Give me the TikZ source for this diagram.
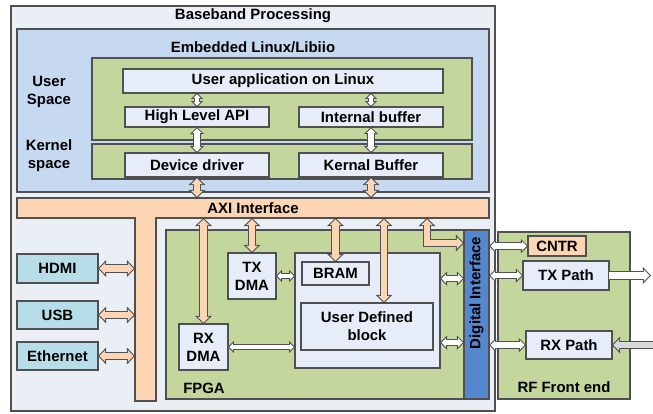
\documentclass[tikz,border=0pt]{standalone}
\usepackage{fontspec}
\setmainfont{Liberation Sans}
\usetikzlibrary{arrows.meta,calc}

\definecolor{bgc}{RGB}{234,239,246}
\definecolor{linuxc}{RGB}{198,217,241}
\definecolor{greenc}{RGB}{195,214,155}
\definecolor{boxc}{RGB}{231,237,248}
\definecolor{orangec}{RGB}{252,213,181}
\definecolor{tealc}{RGB}{183,222,232}
\definecolor{digc}{RGB}{84,135,205}
\definecolor{grayc}{RGB}{217,217,217}
\definecolor{edge}{RGB}{80,80,80}

\begin{document}
\begin{tikzpicture}[x=0.02cm,y=-0.02cm,
	every node/.style={font=\fontsize{8.5}{10.2}\selectfont\bfseries, inner sep=0pt, outer sep=0pt, align=center},
	box/.style={draw=edge, line width=0.6pt, fill=#1},
	box/.default=boxc,
	sz/.style 2 args={minimum width=#1*0.02cm, minimum height=#2*0.02cm},
	% block arrows: dark outline pass, then coloured pass
	big/.style={preaction={draw=edge, line width=5pt, shorten <=0pt, shorten >=0pt,
		arrows={Triangle[length=4.6pt,width=9.6pt,line width=0pt]-Triangle[length=4.6pt,width=9.6pt,line width=0pt]}},
		draw=#1, line width=3.8pt, shorten <=0.83pt, shorten >=0.83pt,
		arrows={Triangle[length=3.2pt,width=6.6pt,line width=0pt]-Triangle[length=3.2pt,width=6.6pt,line width=0pt]}},
	mid/.style={preaction={draw=edge, line width=4.2pt, shorten <=0pt, shorten >=0pt,
		arrows={Triangle[length=4pt,width=8pt,line width=0pt]-Triangle[length=4pt,width=8pt,line width=0pt]}},
		draw=#1, line width=3pt, shorten <=0.85pt, shorten >=0.85pt,
		arrows={Triangle[length=2.55pt,width=5.1pt,line width=0pt]-Triangle[length=2.55pt,width=5.1pt,line width=0pt]}},
	small/.style={preaction={draw=edge, line width=3.2pt, shorten <=0pt, shorten >=0pt,
		arrows={Triangle[length=3.4pt,width=7pt,line width=0pt]-Triangle[length=3.4pt,width=7pt,line width=0pt]}},
		draw=#1, line width=2pt, shorten <=0.84pt, shorten >=0.84pt,
		arrows={Triangle[length=1.96pt,width=4pt,line width=0pt]-Triangle[length=1.96pt,width=4pt,line width=0pt]}},
	oneway/.style={preaction={draw=edge, line width=5pt, shorten >=0pt,
		arrows={-Triangle[length=4.6pt,width=9.6pt,line width=0pt]}},
		draw=#1, line width=3.8pt, shorten >=0.83pt,
		arrows={-Triangle[length=3.2pt,width=6.6pt,line width=0pt]}}
	]
	\useasboundingbox (0,0) rectangle (653,413);

	% baseband / linux part
	\node[box=bgc, sz={484}{405}] (bb) at (253,208.5) {};
	\node (bbt) at (253,16) {Baseband Processing};
	\node[box=linuxc, sz={472}{163}] (linux) at (253,110.5) {};
	\node (linuxt) at (253,47) {Embedded Linux/Libiio};
	\node[box=greenc, sz={380}{82}] (usp) at (282,99) {};
	\node[box=greenc, sz={380}{35}] (ksp) at (282,161.5) {};
	\node (uspt) at (49,92) {User\\Space};
	\node (kspt) at (49,155.5) {Kernel\\space};
	\node[box, sz={320}{24}] (app) at (283,81) {User application on Linux};
	\node[box, sz={144}{20}] (api) at (197,117) {High Level API};
	\node[box, sz={144}{20}] (ibuf) at (371,117) {Internal buffer};
	\node[box, sz={144}{24}] (drv) at (197,165) {Device driver};
	\node[box, sz={144}{24}] (kbuf) at (371,165) {Kernal Buffer};

	% AXI bus (T shape)
	\node[fill=orangec, sz={21}{183}] (stem) at (145.5,309.5) {};
	\node[fill=orangec, sz={472}{20}] (axi) at (253,208) {AXI Interface};
	\draw[edge, line width=0.6pt] (axi.north west) -- (axi.north east) -- (axi.south east)
		-- (stem.north east) -- (stem.south east) -- (stem.south west) -- (stem.north west)
		-- (axi.south west) -- cycle;

	\node[box=tealc, sz={81}{29}] (hdmi) at (57.5,268.5) {HDMI};
	\node[box=tealc, sz={81}{28}] (usb) at (57.5,315) {USB};
	\node[box=tealc, sz={81}{28}] (eth) at (57.5,356) {Ethernet};

	% FPGA
	\node[box=greenc, sz={298}{169}] (fpga) at (315,314.5) {};
	\node (fpgat) at (204,388) {FPGA};
	\node[box=digc, sz={25}{169}] (dig) at (476.5,314.5) {};
	\node[rotate=90] (digt) at (476.5,293) {Digital Interface};
	\node[box, sz={145}{115}] (udp) at (367.5,310.5) {};
	\node[box, sz={67}{23}] (bram) at (335.5,273.5) {BRAM};
	\node[box, sz={132}{47}] (udb) at (367,326.5) {User Defined\\block};
	\node[box, sz={48}{46}] (txdma) at (252,276) {TX\\DMA};
	\node[box, sz={49}{46}] (rxdma) at (203.5,347) {RX\\DMA};

	% RF front end
	\node[box=greenc, sz={132}{167}] (rf) at (564,315.5) {};
	\node (rft) at (564,387) {RF Front end};
	\node[box=orangec, sz={58}{20}] (cntr) at (557,246) {CNTR};
	\node[box, sz={86}{29}] (txp) at (566,275.5) {TX Path};
	\node[box, sz={86}{28}] (rxp) at (569,345) {RX Path};

	% arrows
	\draw[small=white] (app.south -| api) -- (api.north);
	\draw[small=white] (app.south -| ibuf) -- (ibuf.north);
	\draw[mid=white] (api.south) -- (drv.north);
	\draw[mid=white] (ibuf.south) -- (kbuf.north);
	\draw[big=orangec] (drv.south) -- (drv.south |- axi.north);
	\draw[big=orangec] (kbuf.south) -- (kbuf.south |- axi.north);
	\foreach \dev in {hdmi,usb,eth}
		\draw[big=orangec] (\dev.east) -- (\dev.east -| stem.west);
	\foreach \blk in {rxdma,txdma,bram}
		\draw[big=orangec] (\blk.north |- axi.south) -- (\blk.north);
	\coordinate (udbin) at ($(udb.north)+(17,0)$);
	\draw[big=orangec] (udbin |- axi.south) -- (udbin);
	\coordinate (bend) at (427,243);
	\draw[big=orangec] (bend |- axi.south) |- (bend -| dig.west);

	\draw[small=white] (txdma.east) -- (txdma.east -| udp.west);
	\draw[small=white] (rxdma.east) -- (rxdma.east -| udp.west);
	\coordinate (uda) at ($(udp.east)+(0,-32)$);
	\coordinate (udc) at ($(udp.east)+(0,32)$);
	\draw[mid=white] (uda) -- (uda -| dig.west);
	\draw[mid=white] (udc) -- (udc -| dig.west);
	\foreach \rfb in {cntr,txp,rxp}
		\draw[mid=white] (\rfb.west -| dig.east) -- (\rfb.west);
	\coordinate (txout) at (651,275.5);
	\coordinate (rxin) at (656,345);
	\draw[oneway=white] (txp.east) -- (txout);
	\draw[oneway=grayc] (rxin) -- (rxp.east);
\end{tikzpicture}
\end{document}
